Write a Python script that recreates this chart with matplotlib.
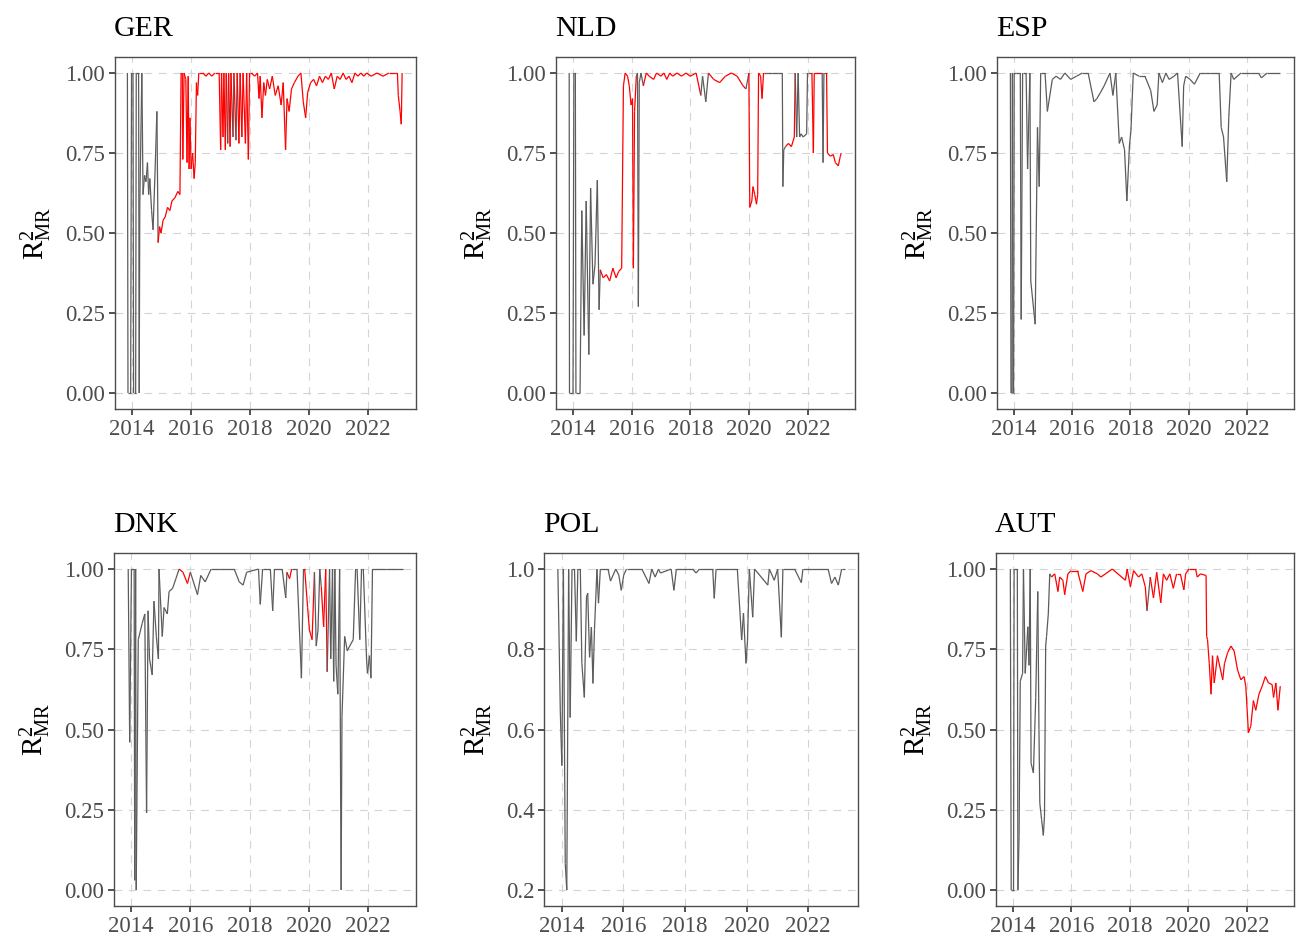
import numpy as np
import matplotlib
matplotlib.use("Agg")
import matplotlib.pyplot as plt
from matplotlib.collections import LineCollection

# ---- data (decimal year, R2_MR) ----
ger_x = [2013.84, 2013.86, 2013.95, 2013.98, 2014.03, 2014.05, 2014.12, 2014.14, 2014.22, 2014.24,
         2014.26, 2014.33, 2014.37, 2014.42, 2014.47, 2014.52, 2014.56, 2014.60, 2014.66, 2014.71,
         2014.78, 2014.84, 2014.88, 2014.93, 2014.98, 2015.05, 2015.12, 2015.20, 2015.28, 2015.35,
         2015.45, 2015.55, 2015.62, 2015.66, 2015.70, 2015.72, 2015.76, 2015.82, 2015.86, 2015.90,
         2015.93, 2015.96, 2016.00, 2016.05, 2016.10, 2016.14, 2016.18, 2016.22, 2016.26, 2016.40,
         2016.50, 2016.60, 2016.70, 2016.80, 2016.95, 2017.00, 2017.03, 2017.08, 2017.11, 2017.16,
         2017.19, 2017.24, 2017.27, 2017.32, 2017.35, 2017.42, 2017.45, 2017.52, 2017.56, 2017.62,
         2017.66, 2017.72, 2017.76, 2017.84, 2017.88, 2017.94, 2017.98, 2018.05, 2018.15, 2018.25,
         2018.30, 2018.34, 2018.40, 2018.46, 2018.52, 2018.58, 2018.66, 2018.75, 2018.85, 2018.95,
         2019.05, 2019.12, 2019.20, 2019.25, 2019.32, 2019.40, 2019.50, 2019.62, 2019.72, 2019.80,
         2019.88, 2019.95, 2020.05, 2020.15, 2020.25, 2020.35, 2020.45, 2020.55, 2020.65, 2020.75,
         2020.85, 2020.95, 2021.05, 2021.15, 2021.25, 2021.35, 2021.45, 2021.55, 2021.65, 2021.75,
         2021.85, 2021.95, 2022.10, 2022.30, 2022.50, 2022.70, 2022.90, 2022.99, 2023.02, 2023.08,
         2023.12, 2023.15]
ger_y = [1.00, 0.00, 0.00, 1.00, 1.00, 0.00, 0.00, 1.00, 1.00, 0.00,
         0.59, 1.00, 0.62, 0.68, 0.66, 0.72, 0.62, 0.67, 0.57, 0.51,
         0.70, 0.88, 0.47, 0.52, 0.50, 0.54, 0.55, 0.58, 0.57, 0.60,
         0.61, 0.63, 0.62, 1.00, 1.00, 0.73, 1.00, 0.98, 0.72, 0.99,
         0.70, 0.86, 0.70, 0.75, 0.67, 0.72, 0.97, 0.93, 1.00, 1.00,
         0.99, 1.00, 0.99, 1.00, 1.00, 0.76, 1.00, 0.80, 1.00, 0.76,
         1.00, 0.78, 1.00, 0.77, 1.00, 0.80, 1.00, 0.79, 1.00, 0.78,
         1.00, 0.80, 1.00, 0.78, 1.00, 0.73, 1.00, 1.00, 0.99, 1.00,
         0.92, 0.99, 0.86, 0.97, 0.93, 0.98, 0.95, 0.99, 0.93, 0.96,
         0.90, 0.97, 0.76, 0.92, 0.88, 0.95, 0.97, 0.99, 1.00, 0.91,
         0.86, 0.94, 0.97, 0.98, 0.96, 0.99, 0.97, 0.99, 0.98, 1.00,
         0.95, 0.99, 0.98, 1.00, 0.98, 0.99, 0.97, 1.00, 0.99, 1.00,
         0.99, 1.00, 0.99, 1.00, 0.99, 1.00, 1.00, 1.00, 0.93, 0.88,
         0.84, 1.00]
ger_red = [(2014.87, 2017.23), (2017.27, 2017.41), (2017.45, 2017.51), (2017.56, 2023.3)]

nld_x = [2013.87, 2013.88, 2014.00, 2014.03, 2014.08, 2014.10, 2014.24, 2014.30, 2014.38, 2014.45,
         2014.54, 2014.60, 2014.68, 2014.75, 2014.83, 2014.89, 2014.93, 2015.03, 2015.14, 2015.25,
         2015.36, 2015.47, 2015.56, 2015.66, 2015.72, 2015.78, 2015.86, 2015.92, 2015.98, 2016.03,
         2016.06, 2016.10, 2016.16, 2016.20, 2016.23, 2016.26, 2016.32, 2016.40, 2016.50, 2016.60,
         2016.75, 2016.85, 2017.00, 2017.10, 2017.20, 2017.30, 2017.40, 2017.55, 2017.70, 2017.85,
         2018.00, 2018.20, 2018.36, 2018.42, 2018.53, 2018.62, 2018.80, 2019.00, 2019.20, 2019.40,
         2019.60, 2019.80, 2019.90, 2020.00, 2020.03, 2020.10, 2020.14, 2020.20, 2020.26, 2020.30,
         2020.33, 2020.40, 2020.45, 2020.50, 2020.60, 2020.80, 2021.00, 2021.14, 2021.16, 2021.19,
         2021.25, 2021.35, 2021.45, 2021.55, 2021.58, 2021.63, 2021.68, 2021.73, 2021.78, 2021.85,
         2021.97, 2022.00, 2022.15, 2022.20, 2022.23, 2022.50, 2022.53, 2022.56, 2022.65, 2022.68,
         2022.78, 2022.88, 2022.95, 2023.05, 2023.12, 2023.15]
nld_y = [1.00, 0.00, 0.00, 1.00, 1.00, 0.00, 0.00, 0.57, 0.18, 0.60,
         0.12, 0.64, 0.34, 0.40, 0.665, 0.26, 0.385, 0.36, 0.37, 0.35,
         0.39, 0.36, 0.38, 0.39, 0.96, 1.00, 0.99, 0.96, 0.90, 0.92,
         0.39, 0.88, 0.99, 1.00, 0.27, 0.97, 1.00, 0.96, 1.00, 0.99,
         0.98, 1.00, 0.99, 1.00, 0.98, 1.00, 0.99, 1.00, 0.99, 1.00,
         0.99, 1.00, 0.93, 0.99, 0.91, 1.00, 0.98, 0.97, 0.99, 1.00,
         0.99, 0.96, 0.95, 1.00, 0.58, 0.60, 0.645, 0.62, 0.59, 0.62,
         1.00, 0.99, 0.92, 1.00, 1.00, 1.00, 1.00, 1.00, 0.645, 0.76,
         0.77, 0.78, 0.77, 0.80, 1.00, 0.80, 1.00, 0.80, 0.81, 0.80,
         0.81, 1.00, 1.00, 0.75, 1.00, 1.00, 0.72, 1.00, 1.00, 0.75,
         0.74, 0.745, 0.72, 0.71, 0.74, 0.75]
nld_red = [(2014.92, 2016.15), (2016.35, 2018.30), (2018.60, 2019.85), (2019.98, 2020.60),
           (2021.20, 2021.56), (2022.12, 2022.50), (2022.62, 2023.3)]

esp_x = [2013.88, 2013.90, 2013.93, 2013.95, 2013.97, 2013.99, 2014.01, 2014.08, 2014.22, 2014.25,
         2014.30, 2014.42, 2014.47, 2014.55, 2014.58, 2014.73, 2014.81, 2014.87, 2014.92, 2015.07,
         2015.15, 2015.32, 2015.45, 2015.60, 2015.75, 2015.95, 2016.15, 2016.35, 2016.55, 2016.75,
         2016.85, 2016.98, 2017.10, 2017.30, 2017.40, 2017.50, 2017.62, 2017.70, 2017.80, 2017.88,
         2017.97, 2018.02, 2018.10, 2018.30, 2018.50, 2018.70, 2018.81, 2018.92, 2018.98, 2019.10,
         2019.22, 2019.33, 2019.50, 2019.62, 2019.78, 2019.83, 2019.90, 2020.05, 2020.20, 2020.40,
         2020.55, 2020.75, 2021.05, 2021.12, 2021.20, 2021.31, 2021.38, 2021.46, 2021.55, 2021.80,
         2022.10, 2022.40, 2022.50, 2022.70, 2023.15]
esp_y = [1.00, 0.00, 0.00, 1.00, 0.00, 0.00, 1.00, 1.00, 1.00, 0.23,
         1.00, 1.00, 0.70, 1.00, 0.35, 0.215, 0.83, 0.645, 1.00, 1.00,
         0.88, 0.98, 0.99, 0.98, 1.00, 0.98, 0.99, 1.00, 1.00, 0.91,
         0.92, 0.94, 0.96, 1.00, 0.93, 1.00, 0.78, 0.80, 0.76, 0.60,
         0.775, 0.82, 1.00, 0.99, 0.99, 0.945, 0.88, 0.90, 1.00, 0.97,
         1.00, 0.98, 0.99, 1.00, 0.77, 0.96, 0.99, 0.98, 0.965, 1.00,
         1.00, 1.00, 1.00, 0.83, 0.80, 0.66, 0.86, 1.00, 0.98, 1.00,
         1.00, 1.00, 0.985, 1.00, 1.00]
esp_red = []

dnk_x = [2013.90, 2013.95, 2014.01, 2014.10, 2014.12, 2014.15, 2014.17, 2014.24, 2014.37, 2014.46,
         2014.52, 2014.57, 2014.62, 2014.71, 2014.77, 2014.85, 2014.92, 2014.94, 2015.05, 2015.11,
         2015.22, 2015.28, 2015.40, 2015.51, 2015.62, 2015.75, 2015.90, 2016.00, 2016.24, 2016.35,
         2016.50, 2016.70, 2017.00, 2017.48, 2017.65, 2017.78, 2017.90, 2018.30, 2018.36, 2018.44,
         2018.70, 2018.78, 2018.84, 2019.10, 2019.22, 2019.26, 2019.35, 2019.42, 2019.60, 2019.75,
         2019.82, 2019.86, 2019.96, 2020.02, 2020.11, 2020.19, 2020.25, 2020.31, 2020.37, 2020.42,
         2020.50, 2020.57, 2020.62, 2020.70, 2020.74, 2020.80, 2020.84, 2020.88, 2020.92, 2020.98,
         2021.04, 2021.09, 2021.12, 2021.21, 2021.30, 2021.38, 2021.50, 2021.58, 2021.63, 2021.72,
         2021.78, 2021.84, 2021.95, 2021.98, 2022.05, 2022.10, 2022.15, 2022.60, 2023.19]
dnk_y = [1.00, 0.46, 1.00, 1.00, 0.03, 1.00, 0.00, 0.78, 0.83, 0.86,
         0.24, 0.87, 0.72, 0.67, 0.90, 0.79, 0.72, 1.00, 0.79, 0.88,
         0.86, 0.93, 0.94, 0.97, 1.00, 0.99, 0.955, 0.99, 0.92, 0.98,
         0.96, 1.00, 1.00, 1.00, 0.96, 0.95, 0.99, 1.00, 0.89, 1.00,
         1.00, 0.87, 1.00, 1.00, 0.91, 0.99, 0.97, 1.00, 1.00, 0.66,
         1.00, 1.00, 0.88, 0.81, 0.78, 0.99, 0.76, 0.81, 1.00, 0.945,
         0.82, 1.00, 0.68, 1.00, 0.72, 1.00, 0.65, 1.00, 0.70, 0.61,
         1.00, 0.00, 0.54, 0.79, 0.745, 0.76, 0.78, 1.00, 1.00, 0.78,
         1.00, 1.00, 0.72, 0.675, 0.73, 0.66, 1.00, 1.00, 1.00]
dnk_red = [(2015.60, 2015.92), (2019.24, 2019.42), (2019.85, 2020.14), (2020.40, 2020.60)]

pol_x = [2013.87, 2013.95, 2014.00, 2014.05, 2014.11, 2014.16, 2014.22, 2014.27, 2014.33, 2014.41,
         2014.47, 2014.52, 2014.60, 2014.65, 2014.73, 2014.80, 2014.84, 2014.90, 2014.96, 2015.01,
         2015.06, 2015.14, 2015.19, 2015.25, 2015.50, 2015.58, 2015.75, 2015.85, 2015.93, 2016.01,
         2016.10, 2016.60, 2016.83, 2016.92, 2017.03, 2017.14, 2017.20, 2017.55, 2017.64, 2017.72,
         2018.25, 2018.36, 2018.47, 2018.90, 2018.95, 2019.01, 2019.70, 2019.84, 2019.90, 2019.98,
         2020.03, 2020.09, 2020.20, 2020.26, 2020.69, 2020.74, 2020.90, 2021.01, 2021.13, 2021.18,
         2021.56, 2021.78, 2021.83, 2022.65, 2022.76, 2022.87, 2022.98, 2023.09, 2023.19]
pol_y = [1.00, 0.644, 0.51, 1.00, 0.266, 0.20, 1.00, 0.63, 1.00, 1.00,
         0.82, 1.00, 1.00, 0.765, 0.68, 0.93, 0.94, 0.78, 0.855, 0.715,
         0.85, 1.00, 0.915, 1.00, 1.00, 0.97, 1.00, 0.985, 0.947, 0.985,
         1.00, 1.00, 0.964, 1.00, 0.98, 1.00, 0.99, 1.00, 0.947, 1.00,
         1.00, 0.99, 1.00, 1.00, 0.927, 1.00, 1.00, 0.823, 0.89, 0.765,
         0.82, 1.00, 0.88, 1.00, 0.96, 1.00, 0.972, 1.00, 0.83, 1.00,
         1.00, 0.966, 1.00, 1.00, 0.964, 0.98, 0.96, 1.00, 1.00]
pol_red = []

aut_x = [2013.91, 2013.94, 2014.02, 2014.04, 2014.15, 2014.17, 2014.21, 2014.25, 2014.33, 2014.36,
         2014.42, 2014.51, 2014.55, 2014.59, 2014.62, 2014.70, 2014.78, 2014.85, 2014.89, 2014.92,
         2014.98, 2015.04, 2015.08, 2015.12, 2015.15, 2015.21, 2015.26, 2015.32, 2015.43, 2015.54,
         2015.60, 2015.71, 2015.77, 2015.88, 2015.99, 2016.21, 2016.39, 2016.50, 2016.67, 2016.89,
         2017.01, 2017.40, 2017.85, 2017.91, 2018.02, 2018.13, 2018.30, 2018.41, 2018.53, 2018.59,
         2018.70, 2018.81, 2018.92, 2019.06, 2019.15, 2019.26, 2019.37, 2019.49, 2019.60, 2019.73,
         2019.85, 2019.91, 2020.02, 2020.25, 2020.31, 2020.42, 2020.61, 2020.63, 2020.66, 2020.72,
         2020.78, 2020.83, 2020.89, 2021.00, 2021.18, 2021.24, 2021.35, 2021.46, 2021.57, 2021.69,
         2021.80, 2021.91, 2021.97, 2022.06, 2022.14, 2022.23, 2022.31, 2022.42, 2022.53, 2022.64,
         2022.75, 2022.87, 2022.92, 2023.00, 2023.07, 2023.15]
aut_y = [1.00, 0.00, 0.00, 1.00, 1.00, 0.00, 0.17, 0.65, 0.675, 1.00,
         0.675, 0.82, 0.70, 1.00, 0.395, 0.365, 0.60, 0.93, 0.50, 0.27,
         0.22, 0.17, 0.23, 0.76, 0.79, 0.86, 0.985, 0.975, 0.985, 0.93,
         0.975, 0.965, 0.92, 0.985, 0.995, 0.995, 0.93, 0.985, 0.995, 0.985,
         0.975, 1.00, 0.965, 1.00, 0.945, 0.995, 0.975, 0.985, 0.945, 0.87,
         0.975, 0.91, 0.99, 0.895, 0.985, 0.965, 0.985, 0.94, 0.985, 0.985,
         0.935, 0.985, 1.00, 1.00, 0.975, 0.985, 0.98, 0.79, 0.78, 0.705,
         0.61, 0.73, 0.645, 0.73, 0.655, 0.705, 0.74, 0.76, 0.745, 0.685,
         0.655, 0.665, 0.635, 0.49, 0.51, 0.59, 0.56, 0.61, 0.635, 0.665,
         0.645, 0.64, 0.60, 0.645, 0.56, 0.635]
aut_red = [(2015.30, 2018.56), (2018.62, 2023.3)]

panels = [
    ("GER", ger_x, ger_y, ger_red, "%.2f"),
    ("NLD", nld_x, nld_y, nld_red, "%.2f"),
    ("ESP", esp_x, esp_y, esp_red, "%.2f"),
    ("DNK", dnk_x, dnk_y, dnk_red, "%.2f"),
    ("POL", pol_x, pol_y, pol_red, "%.1f"),
    ("AUT", aut_x, aut_y, aut_red, "%.2f"),
]
year_ticks = [2014, 2016, 2018, 2020, 2022]

# pixel boxes of the panels (left, top, right, bottom)
boxes = [(115, 57, 416, 409), (556, 57, 855, 409), (997, 57, 1294, 409),
         (114, 553, 416, 906), (544, 553, 858, 906), (996, 553, 1294, 906)]

GREY = "#5c5c5c"
RED = "#ff0000"

matplotlib.rc('font', family='Liberation Serif')
matplotlib.rc('mathtext', fontset='custom', rm='Liberation Serif', it='Liberation Serif:italic')


def main():
    W, H = 1301, 942
    fig = plt.figure(figsize=(W / 100, H / 100), dpi=100)

    for (name, xs, ys, spans, fmt), (l, t, r, b) in zip(panels, boxes):
        ax = fig.add_axes([l / W, 1 - b / H, (r - l) / W, (b - t) / H])
        x = np.asarray(xs)
        y = np.asarray(ys)
        pts = np.column_stack([x, y])
        segs = np.stack([pts[:-1], pts[1:]], axis=1)
        cols = []
        for x0 in x[:-1]:
            red = any(a <= x0 < e for a, e in spans)
            cols.append(RED if red else GREY)
        ax.add_collection(LineCollection(segs, colors=cols, linewidths=0.9, zorder=3))

        ymin, ymax = y.min(), y.max()
        pad = 0.05 * (ymax - ymin)
        ax.set_ylim(ymin - pad, ymax + pad)
        ax.set_xlim(2013.42, 2023.62)
        if name == "POL":
            ax.set_yticks([0.2, 0.4, 0.6, 0.8, 1.0])
        else:
            ax.set_yticks([0.0, 0.25, 0.5, 0.75, 1.0])
        ax.yaxis.set_major_formatter(matplotlib.ticker.FormatStrFormatter(fmt))
        ax.set_xticks(year_ticks)
        ax.grid(True, color="#d4d4d4", linestyle=(0, (7, 6)), linewidth=0.8, zorder=0)
        ax.set_axisbelow(True)
        for s in ax.spines.values():
            s.set_color("#4d4d4d")
            s.set_linewidth(1.0)
        ax.tick_params(axis="both", labelsize=16.5, colors="#333333", labelcolor="#4d4d4d",
                       length=4, width=1.2, pad=3)
        ax.set_title(name, loc="left", fontsize=21.5, pad=15, x=-0.003)
        ax.set_ylabel(r"$\mathrm{R}^2_{\mathrm{MR}}$", fontsize=21, labelpad=8)

    fig.savefig("out.png", dpi=100)
    plt.close(fig)


if __name__ == "__main__":
    main()
